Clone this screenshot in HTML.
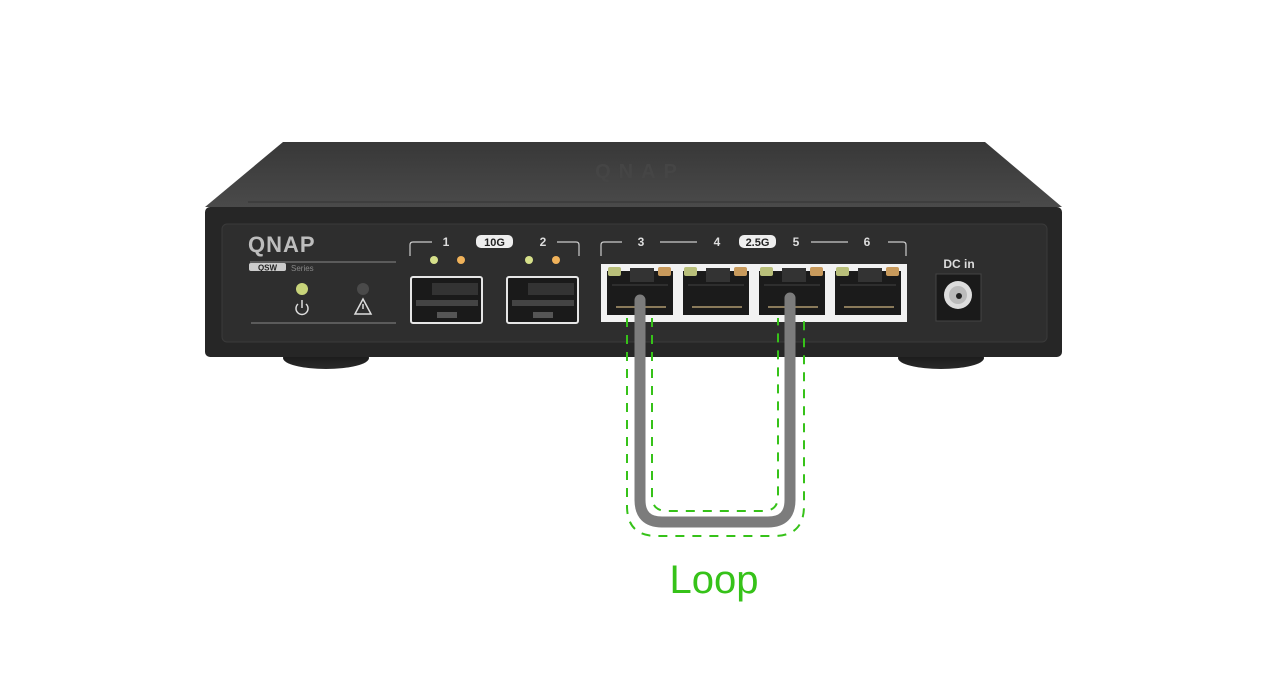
<!DOCTYPE html>
<html><head><meta charset="utf-8"><style>
html,body{margin:0;padding:0;background:#fff;width:1280px;height:700px;overflow:hidden}
svg{display:block}
text{font-family:"Liberation Sans",sans-serif}
</style></head><body>
<svg width="1280" height="700" viewBox="0 0 1280 700">
<defs>
<linearGradient id="top" x1="0" y1="0" x2="0" y2="1"><stop offset="0" stop-color="#383838"/><stop offset="1" stop-color="#4a4a4a"/></linearGradient>
<linearGradient id="foot" x1="0" y1="0" x2="0" y2="1"><stop offset="0" stop-color="#111"/><stop offset="1" stop-color="#2a2a2a"/></linearGradient>
</defs>
<ellipse cx="326" cy="358" rx="43" ry="11" fill="url(#foot)"/>
<ellipse cx="941" cy="358" rx="43" ry="11" fill="url(#foot)"/>
<path d="M283,142 L985,142 L1062,207 L205,207 Z" fill="url(#top)"/>
<text x="640" y="178" font-size="20" font-weight="bold" fill="#454545" text-anchor="middle" letter-spacing="8">QNAP</text>
<line x1="248" y1="202" x2="1020" y2="202" stroke="#333" stroke-width="1"/>
<rect x="205" y="207" width="857" height="150" rx="5" fill="#262626"/>
<rect x="222" y="224" width="825" height="118" rx="5" fill="#2e2e2e" stroke="#3a3a3a"/>
<text x="248" y="252" font-size="22" font-weight="bold" fill="#bdbdbd" letter-spacing="1">QNAP</text>
<line x1="250" y1="262" x2="396" y2="262" stroke="#888" stroke-width="1"/>
<rect x="249" y="263" width="37" height="8" rx="2" fill="#ccc"/>
<text x="267.5" y="270.5" font-size="8" font-weight="bold" fill="#222" text-anchor="middle">QSW</text>
<text x="291" y="271" font-size="8" fill="#888">Series</text>
<circle cx="302" cy="289" r="6" fill="#c8d47a"/>
<circle cx="363" cy="289" r="6" fill="#4a4a4a"/>
<path d="M298,304 A6,6 0 1 0 306,304" fill="none" stroke="#ddd" stroke-width="1.5"/><line x1="302" y1="300" x2="302" y2="308" stroke="#ddd" stroke-width="1.5"/>
<path d="M363,299 L371,314 L355,314 Z" fill="none" stroke="#ddd" stroke-width="1.5"/><line x1="363" y1="304" x2="363" y2="309" stroke="#ddd" stroke-width="1.5"/>
<line x1="251" y1="323" x2="396" y2="323" stroke="#888" stroke-width="1"/>
<path d="M410,256 L410,245 Q410,242 413,242 L432,242" fill="none" stroke="#ccc" stroke-width="1.2"/>
<path d="M579,256 L579,245 Q579,242 576,242 L557,242" fill="none" stroke="#ccc" stroke-width="1.2"/>
<text x="446" y="246" font-size="12" font-weight="bold" fill="#ddd" text-anchor="middle">1</text>
<text x="543" y="246" font-size="12" font-weight="bold" fill="#ddd" text-anchor="middle">2</text>
<rect x="476" y="235" width="37" height="13" rx="5" fill="#eee"/>
<text x="494.5" y="246" font-size="11" font-weight="bold" fill="#222" text-anchor="middle">10G</text>
<circle cx="434" cy="260" r="4" fill="#d6e08a"/><circle cx="461" cy="260" r="4" fill="#f0b25a"/>
<circle cx="529" cy="260" r="4" fill="#d6e08a"/><circle cx="556" cy="260" r="4" fill="#f0b25a"/>
<g>
<rect x="411" y="277" width="71" height="46" rx="2" fill="#1a1a1a" stroke="#e6e6e6" stroke-width="2"/>
<rect x="432" y="283" width="46" height="12" fill="#333"/>
<rect x="416" y="300" width="62" height="6" fill="#444"/>
<rect x="437" y="312" width="20" height="6" fill="#555"/>
<rect x="507" y="277" width="71" height="46" rx="2" fill="#1a1a1a" stroke="#e6e6e6" stroke-width="2"/>
<rect x="528" y="283" width="46" height="12" fill="#333"/>
<rect x="512" y="300" width="62" height="6" fill="#444"/>
<rect x="533" y="312" width="20" height="6" fill="#555"/>
</g>
<path d="M601,256 L601,245 Q601,242 604,242 L622,242" fill="none" stroke="#ccc" stroke-width="1.2"/>
<path d="M906,256 L906,245 Q906,242 903,242 L888,242" fill="none" stroke="#ccc" stroke-width="1.2"/>
<line x1="660" y1="242" x2="697" y2="242" stroke="#ccc" stroke-width="1.2"/>
<line x1="811" y1="242" x2="848" y2="242" stroke="#ccc" stroke-width="1.2"/>
<text x="641" y="246" font-size="12" font-weight="bold" fill="#ddd" text-anchor="middle">3</text>
<text x="717" y="246" font-size="12" font-weight="bold" fill="#ddd" text-anchor="middle">4</text>
<text x="796" y="246" font-size="12" font-weight="bold" fill="#ddd" text-anchor="middle">5</text>
<text x="867" y="246" font-size="12" font-weight="bold" fill="#ddd" text-anchor="middle">6</text>
<rect x="739" y="235" width="37" height="13" rx="5" fill="#eee"/>
<text x="757.5" y="246" font-size="11" font-weight="bold" fill="#222" text-anchor="middle">2.5G</text>
<rect x="601" y="264" width="306" height="58" fill="#f2f2f2"/>
<g id="p">
<rect x="607" y="271" width="66" height="44" fill="#1b1b1b"/>
<rect x="630" y="268" width="24" height="14" fill="#333"/>
<rect x="612" y="284" width="56" height="2" fill="#2e2e2e"/>
<rect x="608" y="267" width="13" height="9" rx="2" fill="#b9bf7a"/>
<rect x="658" y="267" width="13" height="9" rx="2" fill="#c89a5c"/>
<rect x="616" y="306" width="50" height="2" fill="#8a7a5a"/>
</g>
<use href="#p" x="76"/><use href="#p" x="152"/><use href="#p" x="228"/>
<text x="959" y="268" font-size="12" font-weight="bold" fill="#ddd" text-anchor="middle">DC in</text>
<rect x="936" y="274" width="45" height="47" fill="#1a1a1a" stroke="#444"/>
<circle cx="958" cy="295" r="14" fill="#ddd"/><circle cx="958" cy="295" r="9" fill="#bbb"/><circle cx="959" cy="296" r="3" fill="#222"/>
<path d="M627,318 L627,506 Q627,536 657,536 L774,536 Q804,536 804,506 L804,318" fill="none" stroke="#36c219" stroke-width="2" stroke-dasharray="9,8"/>
<path d="M652,318 L652,496 Q652,511 667,511 L763,511 Q778,511 778,496 L778,318" fill="none" stroke="#36c219" stroke-width="2" stroke-dasharray="9,8"/>
<path d="M640,300 L640,500 Q640,522 662,522 L768,522 Q790,522 790,500 L790,298" fill="none" stroke="#7c7c7c" stroke-width="11" stroke-linecap="round"/>
<text x="714" y="593" font-size="40" fill="#36c219" text-anchor="middle">Loop</text>
</svg>
</body></html>
